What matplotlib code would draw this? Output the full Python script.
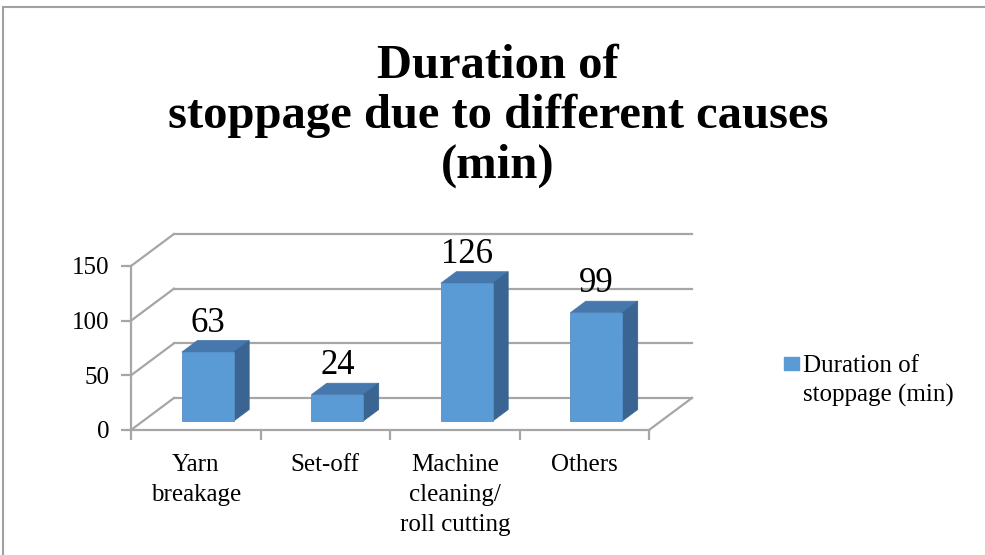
import matplotlib
matplotlib.use("Agg")
import matplotlib.pyplot as plt
from matplotlib.patches import Polygon, Rectangle

# data
categories = ["Yarn\nbreakage", "Set-off", "Machine\ncleaning/\nroll cutting", "Others"]
durations = [63, 24, 126, 99]
yticks = [0, 50, 100, 150]
series_name = "Duration of\nstoppage (min)"
title = "Duration of\nstoppage due to different causes\n(min)"

# style
serif = "Liberation Serif"
grid_col = "#a6a6a6"
front_col = "#5b9bd5"
top_col = "#4677ad"
side_col = "#3a6593"
depth_x, depth_y = 0.332, 29.3     # wall depth in (category, value) units
bar_front, bar_back = 0.28, 0.64   # bar position within depth
bar_width = 0.4

W, H = 985, 555
fig = plt.figure(figsize=(W / 100, H / 100), dpi=100)

# outer chart border (cut at right/bottom like the source)
fig.add_artist(Rectangle((3 / W, -0.2), 2, 1 - 7 / H + 0.2, transform=fig.transFigure,
                         fill=False, edgecolor="#a0a0a0", lw=1.5))

ax = fig.add_axes([131 / W, (H - 430) / H, 518 / W, 164 / H])
ax.set_xlim(0, len(categories))
ax.set_ylim(0, 150)
for s in ["top", "right"]:
    ax.spines[s].set_visible(False)
for s in ["left", "bottom"]:
    ax.spines[s].set_color(grid_col)
    ax.spines[s].set_linewidth(1.6)
ax.patch.set_visible(False)

# walls / gridlines
n = len(categories)
for v in yticks:
    ax.plot([depth_x, n + depth_x], [v + depth_y, v + depth_y], color=grid_col, lw=1.6,
            clip_on=False, zorder=1)
    ax.plot([0, depth_x], [v, v + depth_y], color=grid_col, lw=1.6, clip_on=False, zorder=1)
ax.plot([n, n + depth_x], [0, depth_y], color=grid_col, lw=1.6, clip_on=False, zorder=1)

# 3d bars
for i, v in enumerate(durations):
    x0 = i + 0.5 - bar_width / 2 + bar_front * depth_x
    x1 = x0 + bar_width
    y0 = bar_front * depth_y
    dx = (bar_back - bar_front) * depth_x
    dy = (bar_back - bar_front) * depth_y
    top = Polygon([(x0, y0 + v), (x1, y0 + v), (x1 + dx, y0 + v + dy), (x0 + dx, y0 + v + dy)],
                  closed=True, facecolor=top_col, edgecolor=top_col, lw=0.6, clip_on=False, zorder=3)
    side = Polygon([(x1, y0), (x1 + dx, y0 + dy), (x1 + dx, y0 + v + dy), (x1, y0 + v)],
                   closed=True, facecolor=side_col, edgecolor=side_col, lw=0.6, clip_on=False, zorder=3)
    front = Rectangle((x0, y0), bar_width, v, facecolor=front_col, edgecolor="#5590c8",
                      lw=0.6, clip_on=False, zorder=4)
    ax.add_patch(top)
    ax.add_patch(side)
    ax.add_patch(front)
    ax.annotate(str(v), (x0 + bar_width / 2, y0 + v + dy), xytext=(0, 6.5),
                textcoords="offset points", ha="center", va="baseline",
                fontsize=25, family=serif, zorder=5, annotation_clip=False)

# axes ticks
ax.set_yticks(yticks)
ax.set_yticklabels([str(t) for t in yticks], fontsize=18, family=serif)
ax.tick_params(axis="y", length=7, width=1.6, color=grid_col, pad=8.5)
ax.set_xticks(range(n + 1))
ax.set_xticklabels([])
ax.tick_params(axis="x", which="major", length=7, width=1.6, color=grid_col, direction="out")
ax.set_xticks([i + 0.5 for i in range(n)], minor=True)
ax.set_xticklabels(categories, minor=True, fontsize=18, family=serif, linespacing=1.45)
ax.tick_params(axis="x", which="minor", length=0, pad=17.5)

# legend (key square beside the first line of the label)
fig.add_artist(Rectangle((784 / W, 1 - 370 / H), 15 / W, 13 / H, transform=fig.transFigure,
                         facecolor=front_col, edgecolor=front_col))
fig.text(803 / W, 1 - 355 / H, series_name, ha="left", va="top", fontsize=18,
         family=serif, linespacing=1.4)

fig.text(498 / W, 1 - 44 / H, title, ha="center", va="top", fontsize=35,
         fontweight="bold", family=serif, linespacing=1.17)

fig.savefig("out.png", dpi=100)
